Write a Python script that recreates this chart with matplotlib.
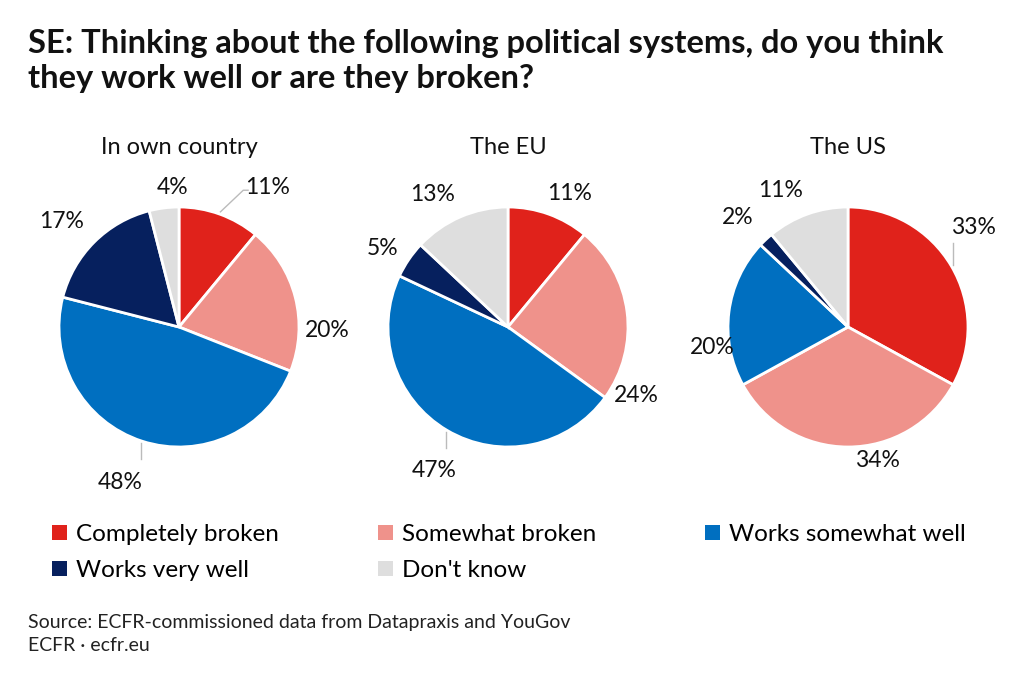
import numpy as np
import matplotlib
matplotlib.use("Agg")
import matplotlib.pyplot as plt
from matplotlib.patches import Patch

plt.rcParams["font.family"] = ["Lato", "DejaVu Sans"]

CATEGORIES = ["Completely broken", "Somewhat broken", "Works somewhat well",
              "Works very well", "Don't know"]
COLORS = ["#e0221b", "#ef928b", "#006fc0", "#06205e", "#dedede"]

PANELS = ["In own country", "The EU", "The US"]
OWN_COUNTRY = [11, 20, 48, 17, 4]
THE_EU = [11, 24, 47, 5, 13]
THE_US = [33, 34, 20, 2, 11]

TITLE = ("SE: Thinking about the following political systems, do you think\n"
         "they work well or are they broken?")
SOURCE = "Source: ECFR-commissioned data from Datapraxis and YouGov\nECFR \u00b7 ecfr.eu"

# label nudges (px right, px down) from the default spot at 1.3 r on the mid angle
NUDGE = [
    [(36, 7), (-3, 42), (-11, 7), (-7, 5), (13, 15)],
    [(9, 13), (-26, 88), (6, 9), (4, 9), (-13, 11)],
    [(-9, -20), (29, -23), (19, 40), (-4, 4), (-15, 10)],
]
LEADERS = [{0: "elbow", 2: "down"}, {2: "down"}, {0: "up"}]

W, H = 1024, 682
R_PX = 120
CENTERS = [(179, 327), (508, 327), (848, 327)]
SPAN = 1.7  # axes half-width in radius units

fig = plt.figure(figsize=(W / 100, H / 100), dpi=100)
fig.text(28 / W, 1 - 29 / H, TITLE, fontsize=23.5, fontweight="bold",
         va="top", ha="left", linespacing=1.25, color="#111111")

for i, (name, vals) in enumerate(zip(PANELS, [OWN_COUNTRY, THE_EU, THE_US])):
    cx, cy = CENTERS[i]
    half = SPAN * R_PX
    ax = fig.add_axes([(cx - half) / W, 1 - (cy + half) / H, 2 * half / W, 2 * half / H])
    wedges, _ = ax.pie(vals, colors=COLORS, startangle=90, counterclock=False,
                       radius=1, wedgeprops=dict(edgecolor="white", linewidth=2))
    ax.set_xlim(-SPAN, SPAN)
    ax.set_ylim(-SPAN, SPAN)
    ax.set_aspect("equal")
    ax.axis("off")
    ax.text(0, 1.5, name, ha="center", va="center", fontsize=17, color="#111111")
    for j, (w, v) in enumerate(zip(wedges, vals)):
        th = np.deg2rad((w.theta1 + w.theta2) / 2)
        nx, ny = NUDGE[i][j]
        lx = 1.3 * np.cos(th) + nx / R_PX
        ly = 1.3 * np.sin(th) - ny / R_PX
        ax.text(lx, ly, f"{v}%", ha="center", va="center", fontsize=16.5, color="#111111")
        kind = LEADERS[i].get(j)
        ex, ey = np.cos(th) * 1.02, np.sin(th) * 1.02
        if kind == "down":
            ax.plot([ex, ex], [ey, ey - 0.13], color="#bbbbbb", lw=1)
        elif kind == "up":
            ax.plot([ex, ex], [ey, ey + 0.18], color="#bbbbbb", lw=1)
        elif kind == "elbow":
            ax.plot([ex, ex + 0.19, ex + 0.23], [ey, ey + 0.18, ey + 0.18],
                    color="#bbbbbb", lw=1)

# legend in three columns
cols = [[0, 3], [1, 4], [2]]
col_x = [52, 378, 705]
for c, xpx in zip(cols, col_x):
    handles = [Patch(facecolor=COLORS[k], edgecolor="none") for k in c]
    fig.legend(handles, [CATEGORIES[k] for k in c], loc="upper left",
               bbox_to_anchor=(xpx / W, 1 - 524 / H), frameon=False,
               fontsize=17.5, handlelength=0.6, handleheight=0.6,
               handletextpad=0.38, labelspacing=0.62, borderpad=0, borderaxespad=0)

fig.text(28 / W, 1 - 614 / H, SOURCE, fontsize=14, va="top", ha="left",
         linespacing=1.4, color="#222222")

fig.savefig("out.png", dpi=100, facecolor="white")
